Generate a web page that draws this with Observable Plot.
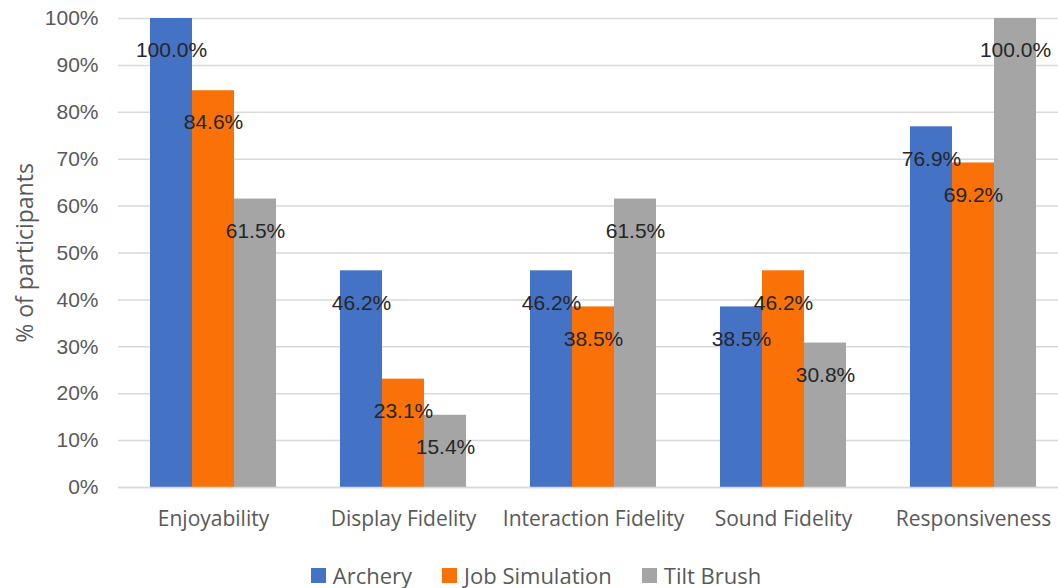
<!DOCTYPE html>
<html>
<head>
<meta charset="utf-8">
<script src="https://cdn.jsdelivr.net/npm/d3@7"></script>
<script src="https://cdn.jsdelivr.net/npm/@observablehq/plot@0.6"></script>
<style>
  html, body { margin: 0; padding: 0; background: #fff; overflow: hidden; }
  #chart svg { display: block; }
  #legend {
    display: flex; justify-content: center; gap: 30px;
    font-family: "Open Sans", sans-serif; font-size: 22px; color: #595959;
    margin-left: 14px; margin-top: 12px; line-height: 26px;
  }
  #legend span.item { display: inline-flex; align-items: center; }
  #legend i { display: inline-block; width: 15px; height: 15px; margin-right: 7px; }
</style>
</head>
<body>
<div id="chart"></div>
<script>
// Survey results: share of participants per criterion and experience
const categories = ["Enjoyability", "Display Fidelity", "Interaction Fidelity", "Sound Fidelity", "Responsiveness"];
const series = ["Archery", "Job Simulation", "Tilt Brush"];
const archery = [1.0, 0.462, 0.462, 0.385, 0.769];
const jobSimulation = [0.846, 0.231, 0.385, 0.462, 0.692];
const tiltBrush = [0.615, 0.154, 0.615, 0.308, 1.0];
const colors = ["#4472C4", "#FA7207", "#A5A5A5"];
const yTicks = [0, 0.1, 0.2, 0.3, 0.4, 0.5, 0.6, 0.7, 0.8, 0.9, 1.0];

const valuesBySeries = [archery, jobSimulation, tiltBrush];
const rows = [];
categories.forEach((c, i) => {
  series.forEach((s, j) => rows.push({category: c, series: s, value: valuesBySeries[j][i]}));
});

const chart = Plot.plot({
  width: 1058,
  height: 550,
  marginLeft: 117,
  marginRight: -10,
  marginTop: 18,
  marginBottom: 63,
  style: {fontFamily: "'Liberation Sans', Arial, sans-serif", background: "#fff"},
  fx: {domain: categories, padding: 0},
  x: {domain: series, padding: 0, paddingOuter: 0.745, axis: null},
  y: {domain: [0, 1]},
  color: {domain: series, range: colors},
  marks: [
    Plot.gridY(yTicks, {stroke: "#d9d9d9", strokeOpacity: 1, strokeWidth: 1.5}),
    Plot.axisY({
      ticks: yTicks, tickFormat: d3.format(".0%"), tickSize: 0, tickPadding: 20,
      fontSize: 21, fill: "#595959", label: null
    }),
    // axis title in its own typeface
    Plot.axisY({
      ticks: [], label: "% of participants", labelArrow: "none", labelAnchor: "center",
      labelOffset: 102, fontSize: 23, fontFamily: "'Open Sans', sans-serif", fill: "#595959"
    }),
    Plot.axisFx({
      anchor: "bottom", tickSize: 0, tickPadding: 24, label: null,
      fontSize: 21, fontFamily: "'Open Sans', sans-serif", fill: "#595959"
    }),
    Plot.barY(rows, {fx: "category", x: "series", y: "value", fill: "series"}),
    Plot.ruleY([0], {stroke: "#d9d9d9", strokeWidth: 1.5}),
    Plot.text(rows, {
      fx: "category", x: "series", y: "value", dy: 32,
      text: d => d3.format(".1%")(d.value),
      fontSize: 21, fill: "#262626"
    })
  ]
});
document.getElementById("chart").appendChild(chart);

// Legend below the plot
const legend = document.createElement("div");
legend.id = "legend";
series.forEach((s, j) => {
  const item = document.createElement("span");
  item.className = "item";
  const sw = document.createElement("i");
  sw.style.background = colors[j];
  item.appendChild(sw);
  item.appendChild(document.createTextNode(s));
  legend.appendChild(item);
});
document.body.appendChild(legend);
</script>
</body>
</html>
